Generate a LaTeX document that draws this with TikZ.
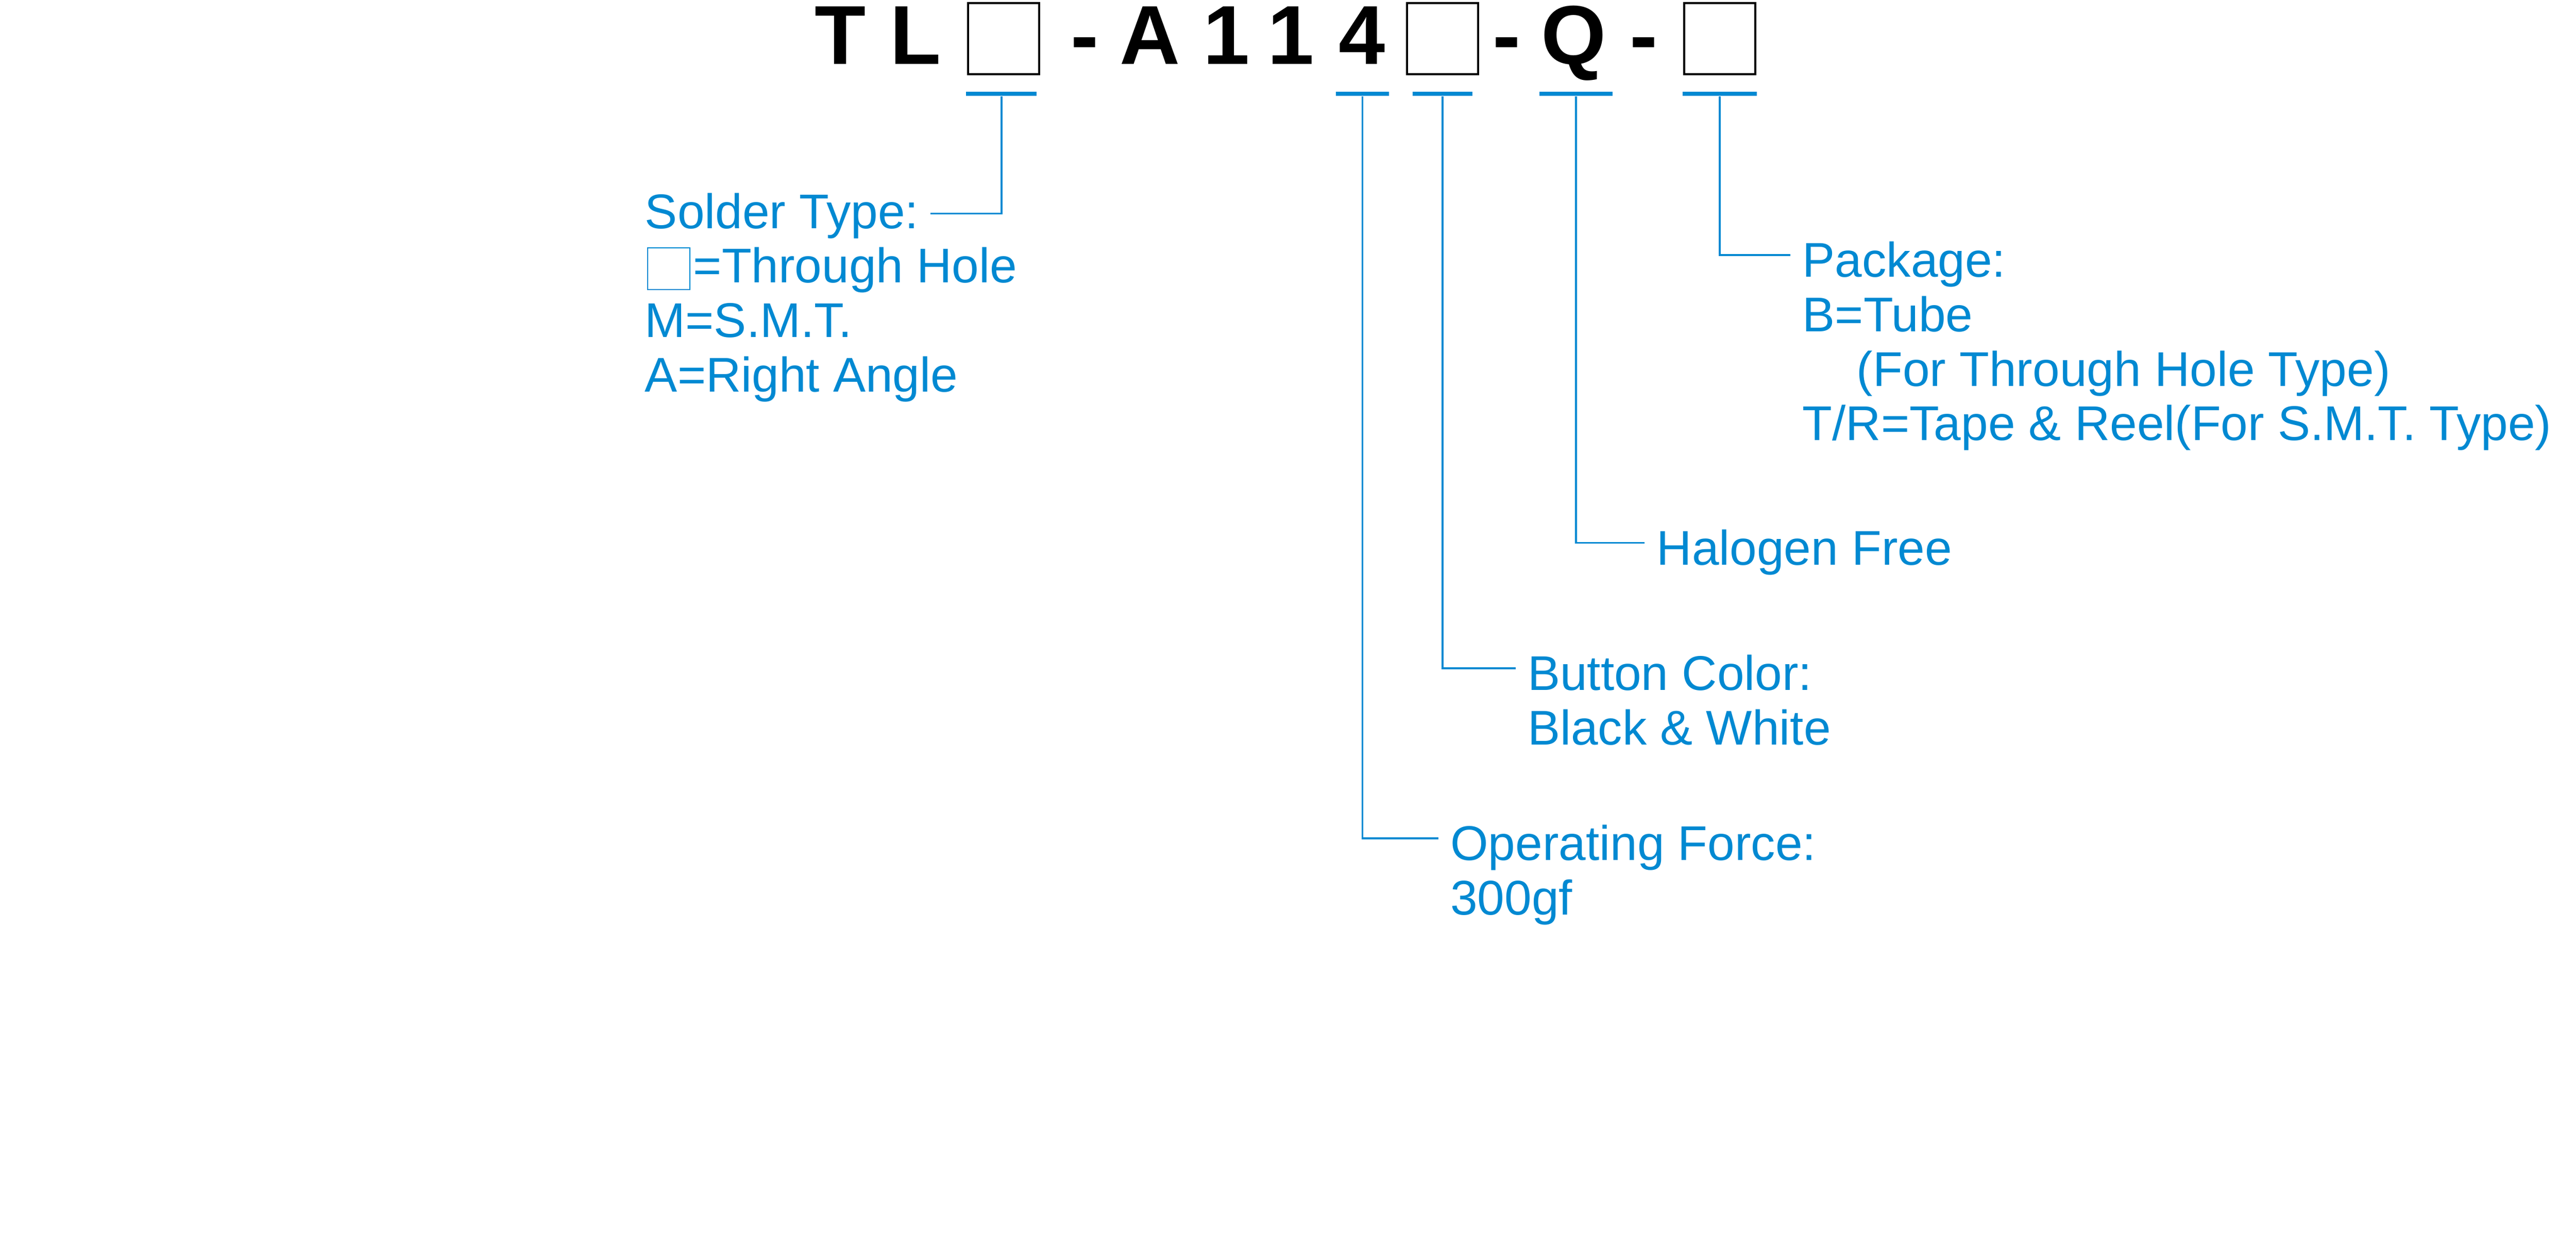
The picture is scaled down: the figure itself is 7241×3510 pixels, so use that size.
\documentclass[tikz,border=0pt]{standalone}
\usepackage{fontspec}
\setmainfont{Liberation Sans}
\usepackage{tikz}
\definecolor{pnblue}{RGB}{0,137,210}
\newcommand{\hbx}{\kern0.6pt\raisebox{-1.7pt}{\fboxsep=0pt\fboxrule=0.3pt\fbox{\rule{0pt}{11.4pt}\hspace{11.6pt}}}\kern0.8pt}

\begin{document}
\begin{tikzpicture}[x=0.1pt,y=-0.1pt,
    ch/.style={anchor=base,inner sep=0pt,font=\bfseries\fontsize{23.5}{28}\selectfont},
    slot/.style={draw,line width=0.6pt,minimum size=20pt,inner sep=0pt},
    bar/.style={fill=pnblue,minimum height=1.1pt,inner sep=0pt},
    lead/.style={draw=pnblue,line width=0.5pt},
    lbl/.style={anchor=base west,inner xsep=3.2pt,inner ysep=0pt,text=pnblue,font=\fontsize{13.7}{15.3}\selectfont}]
    \useasboundingbox (0,0) rectangle (7241,3510);
    \foreach \letter/\position [count=\i] in {T/2362, L/2573, -/3049, A/3233, 1/3447, 1/3629, 4/3828, -/4235, Q/4424, -/4621} {
        \node[ch] (c\i) at (\position,181) {\letter};
    }
    \node[slot] (box1) at (2821,109) {};
    \node[slot] (box2) at (4055,109) {};
    \node[slot] (box3) at (4834,109) {};
    \foreach \name/\position/\width in {bar1/2815/19.8, bar2/3830/15.0, bar3/4055/16.9, bar4/4430/20.7, bar5/4834/20.9} {
        \node[bar,minimum width=\width pt] (\name) at (\position,264) {};
    }
    \foreach \txt [count=\i] in {Solder Type:, \hbx=Through Hole, M=S.M.T., A=Right Angle}
        \node[lbl] (sol\i) at (1779,{642+153*(\i-1)}) {\txt};
    \foreach \txt [count=\i] in {Package:, B=Tube, ~~~~(For Through Hole Type), T/R=Tape \& Reel(For S.M.T. Type)}
        \node[lbl] (pkg\i) at (5033,{779+153*(\i-1)}) {\txt};
    \node[lbl] (hal1) at (4623,1588) {Halogen Free};
    \foreach \txt [count=\i] in {Button Color:, Black \& White}
        \node[lbl] (btn\i) at (4260,{1940+153*(\i-1)}) {\txt};
    \foreach \txt [count=\i] in {Operating Force:, 300gf}
        \node[lbl] (opf\i) at (4043,{2418+153*(\i-1)}) {\txt};
    \draw[lead] (bar1.south) |- ([yshift=4.2pt]sol1.base east);
    \draw[lead] (bar2.south) |- ([yshift=6.2pt]opf1.base west);
    \draw[lead] (bar3.south) |- ([yshift=6.2pt]btn1.base west);
    \draw[lead] (bar4.south) |- ([yshift=6.2pt]hal1.base west);
    \draw[lead] (bar5.south) |- ([yshift=6.2pt]pkg1.base west);
\end{tikzpicture}
\end{document}
